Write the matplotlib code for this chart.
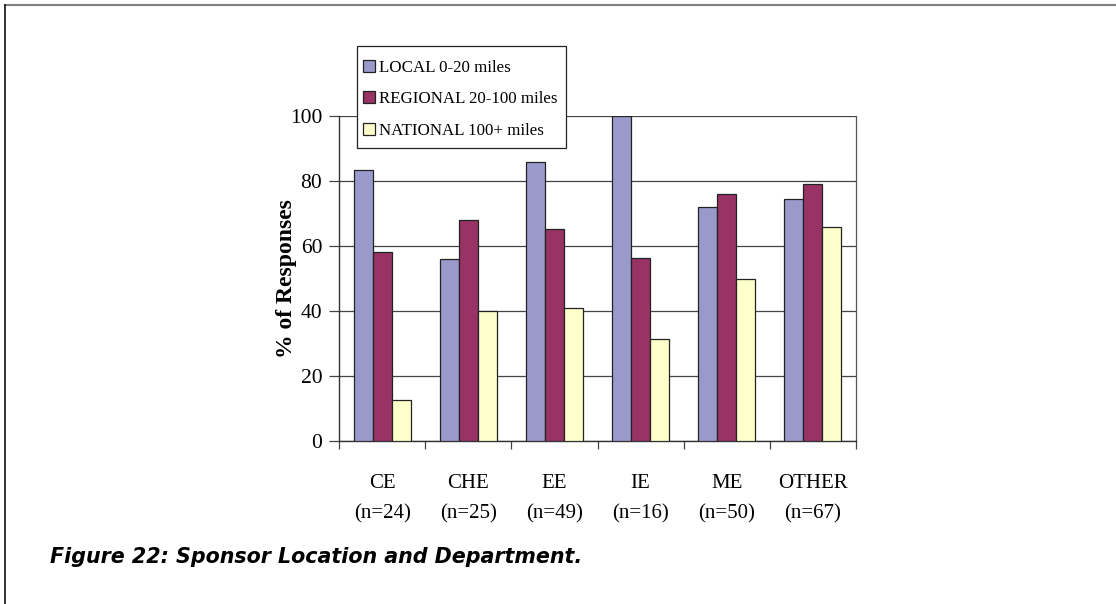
import numpy as np
import matplotlib.pyplot as plt
from matplotlib.lines import Line2D
from matplotlib.patches import Rectangle

departments = ["CE", "CHE", "EE", "IE", "ME", "OTHER"]
counts = [24, 25, 49, 16, 50, 67]
local = [83.3, 56.0, 85.7, 100.0, 72.0, 74.6]
regional = [58.3, 68.0, 65.3, 56.3, 76.0, 79.1]
national = [12.5, 40.0, 40.8, 31.3, 50.0, 65.7]
series_names = ["LOCAL 0-20 miles", "REGIONAL 20-100 miles", "NATIONAL 100+ miles"]
colors = ["#9999CC", "#993366", "#FFFFCC"]

serif = "Liberation Serif"
W, H = 1116, 604

fig = plt.figure(figsize=(W / 100, H / 100), dpi=100)
ax = fig.add_axes([339 / W, 163 / H, 517 / W, 325 / H])

x = np.arange(len(departments))
w = 0.22
for i, (vals, name, c) in enumerate(zip([local, regional, national], series_names, colors)):
    ax.bar(x + (i - 1) * w, vals, w, color=c, edgecolor="#222222", linewidth=0.9,
           label=name, zorder=3)

ax.set_xlim(-0.5, len(departments) - 0.5)
ax.set_ylim(0, 100)
ax.set_yticks(range(0, 101, 20))
ax.yaxis.grid(True, color="#444444", linewidth=0.9, zorder=0)
ax.set_axisbelow(True)

# category names and sample sizes as two rows under the axis
ax.set_xticks(x)
ax.set_xticklabels([])
tr = ax.get_xaxis_transform()
for xi, d, n in zip(x, departments, counts):
    ax.text(xi, -0.13, d, transform=tr, ha="center", va="center",
            fontfamily=serif, fontsize=15)
    ax.text(xi, -0.225, f"(n={n})", transform=tr, ha="center", va="center",
            fontfamily=serif, fontsize=15)
ax.set_xticks(np.arange(-0.5, len(departments)), minor=True)
ax.tick_params(axis="x", which="major", length=0)
ax.tick_params(axis="x", which="minor", length=6, width=0.9, color="#444444", direction="out")
ax.tick_params(axis="y", length=7, width=0.9, color="#444444", direction="out", pad=5)
for lbl in ax.get_yticklabels():
    lbl.set_fontfamily(serif)
    lbl.set_fontsize(15.5)

for s in ["left", "bottom"]:
    ax.spines[s].set_color("#333333")
    ax.spines[s].set_linewidth(1.0)
ax.spines["right"].set_color("#555555")
ax.spines["right"].set_linewidth(0.9)
ax.spines["top"].set_visible(False)

ax.set_ylabel("% of Responses", fontfamily=serif, fontsize=17, fontweight="bold", labelpad=-5)

# legend box drawn separately so the inner spacing can be set freely
fig.add_artist(Rectangle((357 / W, 1 - 148 / H), 209 / W, 102 / H, transform=fig.transFigure,
                         facecolor="white", edgecolor="#222222", linewidth=0.9, zorder=4))
handles, labels = ax.get_legend_handles_labels()
leg = fig.legend(handles, labels, loc="upper left", bbox_to_anchor=(358 / W, 1 - 55 / H),
                 bbox_transform=fig.transFigure, prop={"family": serif, "size": 12.2},
                 frameon=False, handlelength=0.7, handleheight=0.7, handletextpad=0.25,
                 labelspacing=0.9, borderpad=0.3, borderaxespad=0)
leg.set_zorder(5)

fig.text(50 / W, 1 - 557 / H, "Figure 22: Sponsor Location and Department.",
         fontfamily="DejaVu Sans", fontweight="bold", fontstyle="oblique", fontsize=14.9,
         va="center", ha="left")

# page frame
fig.add_artist(Line2D([5 / W, 1.0], [1 - 5 / H, 1 - 5 / H], transform=fig.transFigure,
                      color="#808080", linewidth=1.5))
fig.add_artist(Line2D([5 / W, 5 / W], [0, 1 - 5 / H], transform=fig.transFigure,
                      color="#111111", linewidth=1.2))

fig.savefig("out.png", dpi=100)
